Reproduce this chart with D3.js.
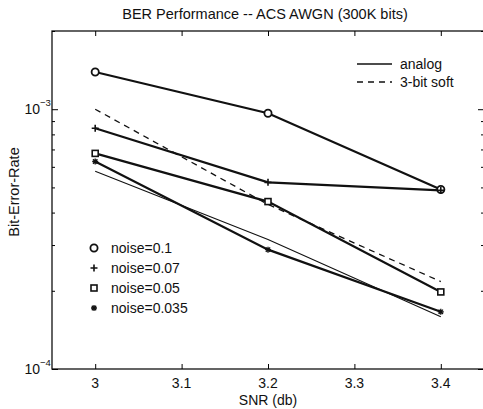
<!DOCTYPE html>
<html>
<head>
<meta charset="utf-8">
<script src="https://cdn.jsdelivr.net/npm/d3@7"></script>
<style>
  body { margin: 0; background: #fff; }
  text { font-family: "Liberation Sans", Arial, sans-serif; fill: #111; }
</style>
</head>
<body>
<svg id="chart" width="483" height="409"></svg>
<script>
// DATA
// ========================================================================
var snr = [3, 3.2, 3.4];
var noise_labels = ["noise=0.1", "noise=0.07", "noise=0.05", "noise=0.035"];
var noise_markers = ["circle", "plus", "square", "star"];
var ber_noise_01 = [1.39e-3, 0.965e-3, 4.91e-4];
var ber_noise_007 = [8.45e-4, 5.23e-4, 4.87e-4];
var ber_noise_005 = [6.76e-4, 4.41e-4, 1.98e-4];
var ber_noise_0035 = [6.29e-4, 2.88e-4, 1.66e-4];
var ber_soft = [1.0e-3, 4.3e-4, 2.17e-4];
var ber_thin = [5.77e-4, 3.15e-4, 1.59e-4];
var x_ticks = [3, 3.1, 3.2, 3.3, 3.4];
var y_major = [1e-4, 1e-3];
var y_exp = ["\u22124", "\u22123"];
var y_minor = [2e-4, 3e-4, 4e-4, 5e-4, 6e-4, 7e-4, 8e-4, 9e-4, 2e-3];
// ========================================================================

var svg = d3.select("#chart");
var plot_left = 52, plot_right = 484, plot_top = 31, plot_bottom = 369;

var x = d3.scaleLinear().domain([2.95, 3.45]).range([plot_left, plot_right]);
var y = d3.scaleLog().domain([1e-4, 2e-3]).range([plot_bottom, plot_top]);

// frame
svg.append("rect")
    .attr("x", plot_left).attr("y", plot_top)
    .attr("width", plot_right - plot_left).attr("height", plot_bottom - plot_top)
    .attr("fill", "none").attr("stroke", "#111").attr("stroke-width", 1.3);

// ticks (inward, all four sides)
svg.append("g").attr("transform", "translate(0," + plot_bottom + ")")
    .call(d3.axisBottom(x).tickValues(x_ticks).tickSize(-5).tickFormat(""))
    .call(g => g.select(".domain").remove());
svg.append("g").attr("transform", "translate(0," + plot_top + ")")
    .call(d3.axisTop(x).tickValues(x_ticks).tickSize(-5).tickFormat(""))
    .call(g => g.select(".domain").remove());
[[plot_left, d3.axisLeft], [plot_right, d3.axisRight]].forEach(function (s) {
  svg.append("g").attr("transform", "translate(" + s[0] + ",0)")
      .call(s[1](y).tickValues(y_major).tickSize(-6).tickFormat(""))
      .call(g => g.select(".domain").remove());
  svg.append("g").attr("transform", "translate(" + s[0] + ",0)")
      .call(s[1](y).tickValues(y_minor).tickSize(-3).tickFormat(""))
      .call(g => g.select(".domain").remove());
});

// tick labels
svg.selectAll(".xlab").data(x_ticks).enter().append("text")
    .attr("x", d => x(d)).attr("y", 388)
    .attr("text-anchor", "middle").attr("font-size", 14)
    .text(d => d);
y_major.forEach(function (d, i) {
  svg.append("text").attr("x", plot_left - 12).attr("y", y(d) + 5)
      .attr("text-anchor", "end").attr("font-size", 14).text("10");
  svg.append("text").attr("x", plot_left - 12).attr("y", y(d) - 3)
      .attr("font-size", 9.5).text(y_exp[i]);
});

// titles
svg.append("text").attr("x", 265).attr("y", 19).attr("text-anchor", "middle")
    .attr("font-size", 14.5).text("BER Performance -- ACS AWGN (300K bits)");
svg.append("text").attr("x", 268).attr("y", 405).attr("text-anchor", "middle")
    .attr("font-size", 14).text("SNR (db)");
svg.append("text").attr("transform", "translate(19,192) rotate(-90)")
    .attr("text-anchor", "middle").attr("font-size", 14.5).text("Bit-Error-Rate");

// lines
var line = d3.line().x((d, i) => x(snr[i])).y(d => y(d));
var series = [ber_noise_01, ber_noise_007, ber_noise_005, ber_noise_0035];

svg.append("path").datum(ber_soft).attr("d", line)
    .attr("fill", "none").attr("stroke", "#111").attr("stroke-width", 1.3)
    .attr("stroke-dasharray", "6,5");
svg.append("path").datum(ber_thin).attr("d", line)
    .attr("fill", "none").attr("stroke", "#111").attr("stroke-width", 1.1);
series.forEach(function (s) {
  svg.append("path").datum(s).attr("d", line)
      .attr("fill", "none").attr("stroke", "#111").attr("stroke-width", 2.2);
});

// markers
function drawMarker(g, type, cx, cy) {
  if (type == "circle") {
    g.append("circle").attr("cx", cx).attr("cy", cy).attr("r", 3.6)
        .attr("fill", "#fff").attr("stroke", "#111").attr("stroke-width", 1.8);
  } else if (type == "plus") {
    g.append("path").attr("d", "M" + (cx - 3.5) + "," + cy + "h7M" + cx + "," + (cy - 3.5) + "v7")
        .attr("stroke", "#111").attr("stroke-width", 1.6);
  } else if (type == "square") {
    g.append("rect").attr("x", cx - 3).attr("y", cy - 3).attr("width", 6).attr("height", 6)
        .attr("fill", "#fff").attr("stroke", "#111").attr("stroke-width", 1.6);
  } else if (type == "star") {
    g.append("path").attr("d", "M" + (cx - 3) + "," + cy + "h6M" + cx + "," + (cy - 3) + "v6" +
        "M" + (cx - 2.2) + "," + (cy - 2.2) + "l4.4,4.4M" + (cx - 2.2) + "," + (cy + 2.2) + "l4.4,-4.4")
        .attr("stroke", "#111").attr("stroke-width", 1.3);
  }
}
var mg = svg.append("g");
series.forEach(function (s, k) {
  s.forEach(function (v, i) { drawMarker(mg, noise_markers[k], x(snr[i]), y(v)); });
});

// legend: line styles
svg.append("line").attr("x1", 357).attr("x2", 392).attr("y1", 64).attr("y2", 64)
    .attr("stroke", "#111").attr("stroke-width", 1.3);
svg.append("text").attr("x", 400).attr("y", 69).attr("font-size", 14).text("analog");
svg.append("line").attr("x1", 357).attr("x2", 392).attr("y1", 82).attr("y2", 82)
    .attr("stroke", "#111").attr("stroke-width", 1.3).attr("stroke-dasharray", "6,5");
svg.append("text").attr("x", 400).attr("y", 87).attr("font-size", 14).text("3-bit soft");

// legend: markers
noise_labels.forEach(function (lab, k) {
  var cy = 248 + k * 20;
  drawMarker(svg, noise_markers[k], 94, cy);
  svg.append("text").attr("x", 111).attr("y", cy + 5).attr("font-size", 14).text(lab);
});
</script>
</body>
</html>
